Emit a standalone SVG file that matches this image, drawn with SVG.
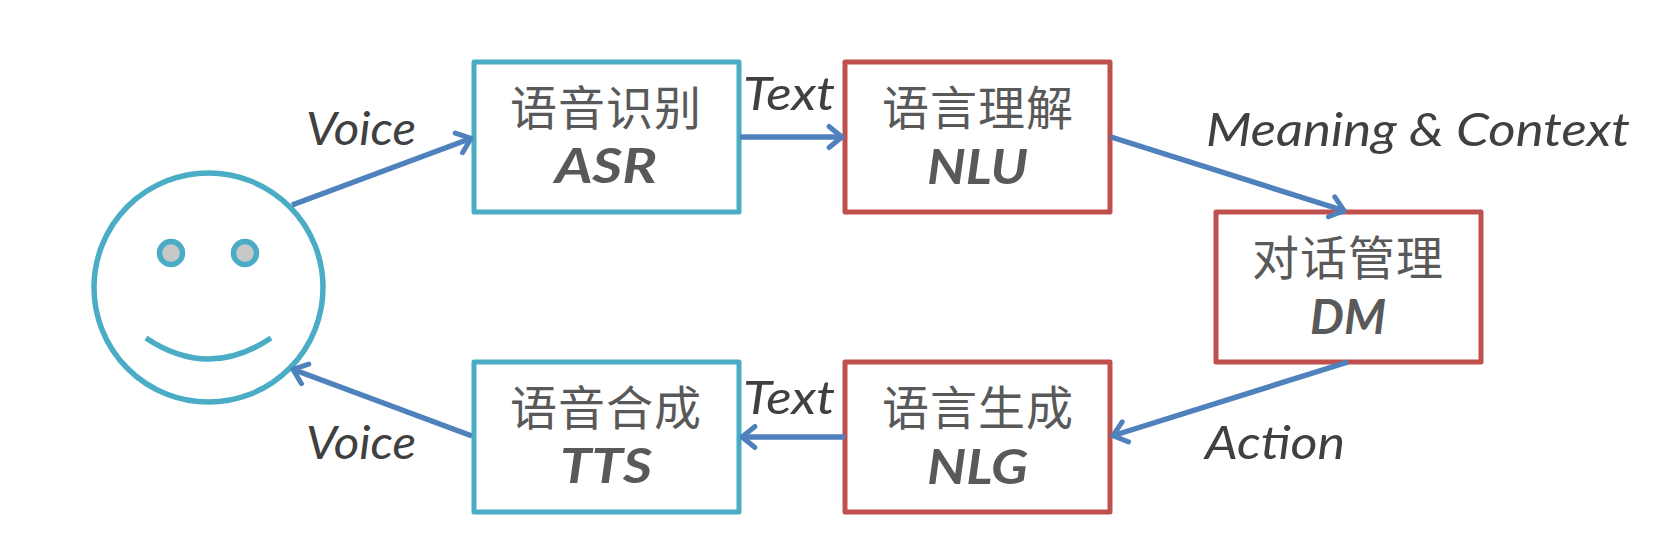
<svg xmlns="http://www.w3.org/2000/svg" width="1675" height="550" viewBox="0 0 1675 550">
<style>
.teal{fill:#fff;stroke:#4bacc6;stroke-width:5;stroke-linejoin:round}
.red{fill:#fff;stroke:#c0504d;stroke-width:5;stroke-linejoin:round}
.zh{font-family:"Noto Sans CJK SC",sans-serif;font-size:47px;fill:#595959}
.en{font-family:Lato,"Open Sans",sans-serif;font-style:italic;font-weight:700;font-size:48px;fill:#595959}
.lb{font-family:Lato,"Open Sans",sans-serif;font-style:italic;font-size:46px;fill:#404040}
.cn{fill:none;stroke:#4f81bd;stroke-width:5.500;marker-end:url(#ah)}
</style>
<defs>
<marker id="ah" markerUnits="userSpaceOnUse" markerWidth="30" markerHeight="30" refX="21" refY="15" orient="auto" overflow="visible">
<path d="M7 4.500L20 15L7 25.500" fill="none" stroke="#4f81bd" stroke-width="5" stroke-linecap="round" stroke-linejoin="round"/>
</marker>
</defs>
<rect width="1675" height="550" fill="#fff"/>
<g id="user">
<circle cx="208.500" cy="287.500" r="114.500" fill="#fff" stroke="#4bacc6" stroke-width="5.500"/>
<circle cx="171" cy="253" r="11.500" fill="#c8c8c8" stroke="#4bacc6" stroke-width="5.500"/>
<circle cx="245" cy="253" r="11.500" fill="#c8c8c8" stroke="#4bacc6" stroke-width="5.500"/>
<path d="M146 338Q208.500 380 271 338" fill="none" stroke="#4bacc6" stroke-width="5.500"/>
</g>
<g id="asr"><rect class="teal" x="474" y="62" width="265" height="150"/><text class="zh" x="510" y="125" textLength="191">语音识别</text><text class="en" x="555" y="183" textLength="102" lengthAdjust="spacingAndGlyphs">ASR</text></g>
<g id="nlu"><rect class="red" x="845" y="62" width="265" height="150"/><text class="zh" x="882" y="125" textLength="191">语言理解</text><text class="en" x="927" y="184" textLength="101" lengthAdjust="spacingAndGlyphs">NLU</text></g>
<g id="dm"><rect class="red" x="1216" y="212" width="265" height="150"/><text class="zh" x="1252" y="275" textLength="191">对话管理</text><text class="en" x="1310" y="334" textLength="76" lengthAdjust="spacingAndGlyphs">DM</text></g>
<g id="nlg"><rect class="red" x="845" y="362" width="265" height="150"/><text class="zh" x="882" y="425" textLength="191">语言生成</text><text class="en" x="927" y="484" textLength="101" lengthAdjust="spacingAndGlyphs">NLG</text></g>
<g id="tts"><rect class="teal" x="474" y="362" width="265" height="150"/><text class="zh" x="510" y="425" textLength="191">语音合成</text><text class="en" x="560" y="483" textLength="92" lengthAdjust="spacingAndGlyphs">TTS</text></g>
<g id="connectors">
<path class="cn" d="M292 205L472 138"/>
<path class="cn" d="M740 137L843 137"/>
<path class="cn" d="M1111 137L1345 211"/>
<path class="cn" d="M1348 362L1112 436"/>
<path class="cn" d="M845 437L741 437"/>
<path class="cn" d="M472 436L292 369"/>
</g>
<g id="labels">
<text class="lb" x="306" y="145" textLength="110" lengthAdjust="spacingAndGlyphs">Voice</text>
<text class="lb" x="743" y="110" textLength="92" lengthAdjust="spacingAndGlyphs">Text</text>
<text class="lb" x="1206" y="146" textLength="424" lengthAdjust="spacingAndGlyphs">Meaning &amp; Context</text>
<text class="lb" x="1205" y="459" textLength="140" lengthAdjust="spacingAndGlyphs">Action</text>
<text class="lb" x="743" y="414" textLength="92" lengthAdjust="spacingAndGlyphs">Text</text>
<text class="lb" x="306" y="459" textLength="110" lengthAdjust="spacingAndGlyphs">Voice</text>
</g>
</svg>
